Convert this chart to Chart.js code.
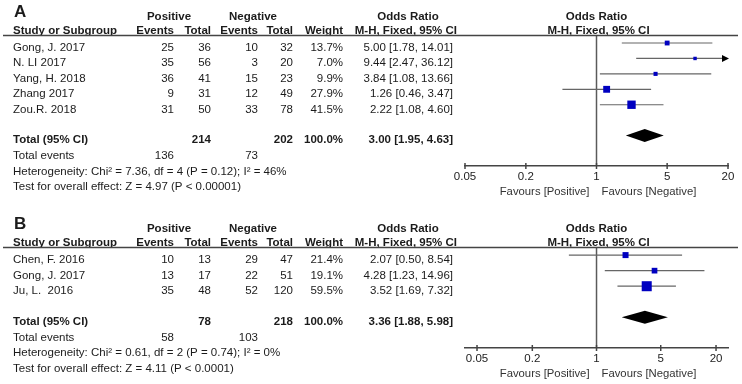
<!DOCTYPE html>
<html>
<head>
<meta charset="utf-8">
<script src="https://cdn.jsdelivr.net/npm/chart.js@4.4.0/dist/chart.umd.min.js"></script>
<style>
  body { margin: 0; background: #fff; }
  .painel { position: absolute; left: 0; }
</style>
</head>
<body>
<canvas id="painelA" class="painel" width="742" height="212" style="top:0px"></canvas>
<canvas id="painelB" class="painel" width="742" height="172" style="top:212px"></canvas>
<script>
// ================= DADOS DO PAINEL A =================
const estudosA = ['Gong, J. 2017', 'N. LI 2017', 'Yang, H. 2018', 'Zhang 2017', 'Zou.R. 2018'];
const eventosPosA = [25, 35, 36, 9, 31];
const totalPosA = [36, 56, 41, 31, 50];
const eventosNegA = [10, 3, 15, 12, 33];
const totalNegA = [32, 20, 23, 49, 78];
const pesoA = [13.7, 7.0, 9.9, 27.9, 41.5];
const oddsA = [5.00, 9.44, 3.84, 1.26, 2.22];
const infA = [1.78, 2.47, 1.08, 0.46, 1.08];
const supA = [14.01, 36.12, 13.66, 3.47, 4.60];
const somasA = [136, 214, 73, 202];          // eventos pos, total pos, eventos neg, total neg
const combinadoA = [3.00, 1.95, 4.63];       // OR, IC inferior, IC superior
const rodapeA = ['Heterogeneity: Chi\u00b2 = 7.36, df = 4 (P = 0.12); I\u00b2 = 46%',
                 'Test for overall effect: Z = 4.97 (P < 0.00001)'];

// ================= DADOS DO PAINEL B =================
const estudosB = ['Chen, F. 2016', 'Gong, J. 2017', 'Ju, L.  2016'];
const eventosPosB = [10, 13, 35];
const totalPosB = [13, 17, 48];
const eventosNegB = [29, 22, 52];
const totalNegB = [47, 51, 120];
const pesoB = [21.4, 19.1, 59.5];
const oddsB = [2.07, 4.28, 3.52];
const infB = [0.50, 1.23, 1.69];
const supB = [8.54, 14.96, 7.32];
const somasB = [58, 78, 103, 218];
const combinadoB = [3.36, 1.88, 5.98];
const rodapeB = ['Heterogeneity: Chi\u00b2 = 0.61, df = 2 (P = 0.74); I\u00b2 = 0%',
                 'Test for overall effect: Z = 4.11 (P < 0.0001)'];

// Eixo log compartilhado
const ticksEixo = [0.05, 0.2, 1, 5, 20];
const rotulosEixo = ['0.05', '0.2', '1', '5', '20'];

const FONTE = '"Liberation Sans", Arial, Helvetica, sans-serif';
const COR_TEXTO = '#1b1b1b';

// ================= FUNÇÃO QUE MONTA UM PAINEL =================
function montarPainel(idCanvas, p) {
    const n = p.estudos.length;
    const linhaTotal = n + 1; // linha do diamante

    function escrever(ctx, txt, xx, yy, alinhar, negrito, tam) {
        ctx.font = (negrito ? 'bold ' : '') + (tam || 11.5) + 'px ' + FONTE;
        ctx.textAlign = alinhar;
        ctx.textBaseline = 'alphabetic';
        ctx.fillStyle = COR_TEXTO;
        ctx.fillText(txt, xx, yy);
    }

    const ic = (o, l, h) => `${o.toFixed(2)} [${l.toFixed(2)}, ${h.toFixed(2)}]`;

    const pluginFloresta = {
        id: 'floresta',
        beforeDatasetsDraw(chart) {
            const { ctx, chartArea: ca, scales: { x, y } } = chart;
            const x1 = x.getPixelForValue(1);
            ctx.save();
            // Linha vertical de nulidade
            ctx.strokeStyle = '#5a5a5a';
            ctx.lineWidth = 1.5;
            ctx.beginPath();
            ctx.moveTo(x1, ca.top);
            ctx.lineTo(x1, ca.bottom);
            ctx.stroke();

            // Intervalos de confiança
            p.inf.forEach((lo, i) => {
                const yy = y.getPixelForValue(i);
                const xa = Math.max(x.getPixelForValue(lo), ca.left);
                const hiPx = x.getPixelForValue(p.sup[i]);
                const corta = hiPx > ca.right;
                ctx.strokeStyle = '#666';
                ctx.lineWidth = 1.2;
                ctx.beginPath();
                ctx.moveTo(xa, yy);
                ctx.lineTo(corta ? ca.right - 5 : hiPx, yy);
                ctx.stroke();
                if (corta) {
                    ctx.fillStyle = '#000';
                    ctx.beginPath();
                    ctx.moveTo(ca.right + 1, yy);
                    ctx.lineTo(ca.right - 6, yy - 3.5);
                    ctx.lineTo(ca.right - 6, yy + 3.5);
                    ctx.closePath();
                    ctx.fill();
                }
            });
            ctx.restore();
        },
        afterDatasetsDraw(chart) {
            const { ctx, scales: { x, y } } = chart;
            const yy = y.getPixelForValue(linhaTotal);
            const [o, l, h] = p.combinado;
            ctx.save();
            ctx.fillStyle = '#000';
            ctx.beginPath();
            ctx.moveTo(x.getPixelForValue(l), yy);
            ctx.lineTo(x.getPixelForValue(o), yy - 6.5);
            ctx.lineTo(x.getPixelForValue(h), yy);
            ctx.lineTo(x.getPixelForValue(o), yy + 6.5);
            ctx.closePath();
            ctx.fill();
            ctx.restore();
        },
        afterDraw(chart) {
            const { ctx, chartArea: ca, scales: { x, y } } = chart;
            const x1 = x.getPixelForValue(1);
            ctx.save();

            // Marcas do eixo (para cima e para baixo)
            ctx.strokeStyle = '#444';
            ctx.lineWidth = 1.5;
            x.ticks.forEach(t => {
                const tx = x.getPixelForValue(t.value);
                ctx.beginPath();
                ctx.moveTo(tx, ca.bottom - 3);
                ctx.lineTo(tx, ca.bottom + 3);
                ctx.stroke();
            });

            // Cabeçalho
            escrever(ctx, p.letra, 14, 17, 'left', true, 17);
            escrever(ctx, 'Positive', 169, 19.5, 'center', true);
            escrever(ctx, 'Negative', 253, 19.5, 'center', true);
            escrever(ctx, 'Odds Ratio', 408, 19.5, 'center', true);
            escrever(ctx, 'Odds Ratio', x1, 19.5, 'center', true);
            const yCab = ca.top - 1.5;
            escrever(ctx, 'Study or Subgroup', 13, yCab, 'left', true);
            escrever(ctx, 'Events', 174, yCab, 'right', true);
            escrever(ctx, 'Total', 211, yCab, 'right', true);
            escrever(ctx, 'Events', 258, yCab, 'right', true);
            escrever(ctx, 'Total', 293, yCab, 'right', true);
            escrever(ctx, 'Weight', 343, yCab, 'right', true);
            escrever(ctx, 'M-H, Fixed, 95% CI', 457, yCab, 'right', true);
            escrever(ctx, 'M-H, Fixed, 95% CI', x1 + 2, yCab, 'center', true);

            ctx.strokeStyle = '#444';
            ctx.lineWidth = 1.3;
            ctx.beginPath();
            ctx.moveTo(3, ca.top + 0.5);
            ctx.lineTo(738, ca.top + 0.5);
            ctx.stroke();

            // Linhas dos estudos
            p.estudos.forEach((nome, i) => {
                const yy = y.getPixelForValue(i) + 8;
                escrever(ctx, nome, 13, yy, 'left', false);
                escrever(ctx, String(p.evPos[i]), 174, yy, 'right', false);
                escrever(ctx, String(p.totPos[i]), 211, yy, 'right', false);
                escrever(ctx, String(p.evNeg[i]), 258, yy, 'right', false);
                escrever(ctx, String(p.totNeg[i]), 293, yy, 'right', false);
                escrever(ctx, p.peso[i].toFixed(1) + '%', 343, yy, 'right', false);
                escrever(ctx, ic(p.odds[i], p.inf[i], p.sup[i]), 453, yy, 'right', false);
            });

            // Linha do total
            const yt = y.getPixelForValue(linhaTotal);
            const [o, l, h] = p.combinado;
            escrever(ctx, 'Total (95% CI)', 13, yt + 7.5, 'left', true);
            escrever(ctx, String(p.somas[1]), 211, yt + 7.5, 'right', true);
            escrever(ctx, String(p.somas[3]), 293, yt + 7.5, 'right', true);
            escrever(ctx, '100.0%', 343, yt + 7.5, 'right', true);
            escrever(ctx, ic(o, l, h), 453, yt + 7.5, 'right', true);

            escrever(ctx, 'Total events', 13, yt + 23.5, 'left', false);
            escrever(ctx, String(p.somas[0]), 174, yt + 23.5, 'right', false);
            escrever(ctx, String(p.somas[2]), 258, yt + 23.5, 'right', false);
            escrever(ctx, p.rodape[0], 13, yt + 39, 'left', false);
            escrever(ctx, p.rodape[1], 13, yt + 54.5, 'left', false);

            // Rótulos "Favours"
            ctx.font = '11.3px ' + FONTE;
            ctx.fillStyle = '#333';
            ctx.textAlign = 'right';
            ctx.fillText('Favours [Positive]', x1 - 7, ca.bottom + 29);
            ctx.textAlign = 'left';
            ctx.fillText('Favours [Negative]', x1 + 5, ca.bottom + 29);
            ctx.restore();
        }
    };

    return new Chart(document.getElementById(idCanvas), {
        type: 'scatter',
        data: {
            datasets: [{
                data: p.odds.map((v, i) => ({ x: v, y: i })),
                pointStyle: 'rect',
                pointRadius: p.peso.map(w => 1.3 * Math.sqrt(w) / Math.SQRT2),
                pointHoverRadius: p.peso.map(w => 1.3 * Math.sqrt(w) / Math.SQRT2),
                backgroundColor: '#0000c0',
                borderColor: '#0000c0',
                borderWidth: 0
            }]
        },
        options: {
            responsive: false,
            devicePixelRatio: 1,
            animation: false,
            events: [],
            layout: { padding: { left: 465, right: 14, top: 35, bottom: p.folgaBaixo } },
            plugins: { legend: { display: false }, tooltip: { enabled: false } },
            scales: {
                x: {
                    type: 'logarithmic',
                    min: p.xMin,
                    max: p.xMax,
                    afterBuildTicks: (s) => { s.ticks = ticksEixo.map(v => ({ value: v })); },
                    afterFit: (s) => { s.height = 22; },
                    grid: { display: false, drawTicks: false },
                    border: { display: true, color: '#444', width: 1.5 },
                    ticks: {
                        autoSkip: false,
                        maxRotation: 0,
                        padding: 4,
                        color: '#222',
                        font: { family: FONTE, size: 11.5 },
                        callback: (v, i) => rotulosEixo[i]
                    }
                },
                y: {
                    type: 'linear',
                    display: false,
                    reverse: true,
                    min: -0.52,
                    max: linhaTotal + 1.97
                }
            }
        },
        plugins: [pluginFloresta]
    });
}

montarPainel('painelA', {
    letra: 'A', estudos: estudosA, evPos: eventosPosA, totPos: totalPosA,
    evNeg: eventosNegA, totNeg: totalNegA, peso: pesoA, odds: oddsA,
    inf: infA, sup: supA, somas: somasA, combinado: combinadoA, rodape: rodapeA,
    xMin: 0.05, xMax: 20, folgaBaixo: 24
});

montarPainel('painelB', {
    letra: 'B', estudos: estudosB, evPos: eventosPosB, totPos: totalPosB,
    evNeg: eventosNegB, totNeg: totalNegB, peso: pesoB, odds: oddsB,
    inf: infB, sup: supB, somas: somasB, combinado: combinadoB, rodape: rodapeB,
    xMin: 0.037, xMax: 27, folgaBaixo: 14
});
</script>
</body>
</html>
